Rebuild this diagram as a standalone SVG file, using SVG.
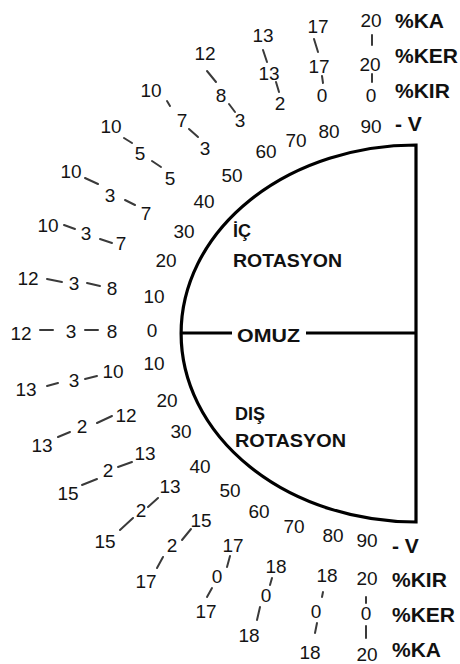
<svg xmlns="http://www.w3.org/2000/svg" width="460" height="664" viewBox="0 0 460 664">
<style>
.n{font-family:"Liberation Sans",Arial,sans-serif;font-size:19px;fill:#141414;text-anchor:middle}
.b{font-family:"Liberation Sans",Arial,sans-serif;font-weight:bold;fill:#111}
.k{font-size:21px}
.i{font-size:18px}
.d{stroke:#3a3a3a;stroke-width:2;stroke-linecap:round;fill:none}
.s{stroke:#000;stroke-width:3.2;fill:none}
</style>
<rect width="460" height="664" fill="#fff"/>
<g id="shoulder">
<path class="s" d="M416,145 A235,188.5 0 0 0 416,522 Z"/>
<line class="s" x1="181" y1="333" x2="232" y2="333"/>
<line class="s" x1="306" y1="333" x2="416" y2="333"/>
<text class="b i" x="237" y="342" textLength="63" lengthAdjust="spacingAndGlyphs">OMUZ</text>
<text class="b i" x="233" y="237">İÇ</text>
<text class="b i" x="233" y="267" textLength="109" lengthAdjust="spacingAndGlyphs">ROTASYON</text>
<text class="b i" x="235" y="420">DIŞ</text>
<text class="b i" x="235" y="447" textLength="111" lengthAdjust="spacingAndGlyphs">ROTASYON</text>
</g>
<g id="legend-top">
<text class="b k" x="395" y="28">%KA</text>
<text class="b k" x="395" y="63">%KER</text>
<text class="b k" x="395" y="98">%KIR</text>
<text class="b k" x="395" y="131">- V</text>
</g>
<g id="legend-bottom">
<text class="b k" x="392" y="553">- V</text>
<text class="b k" x="392" y="587">%KIR</text>
<text class="b k" x="392" y="622">%KER</text>
<text class="b k" x="392" y="657">%KA</text>
</g>
<g id="angles">
<text class="n" x="371" y="133">90</text>
<text class="n" x="329" y="138">80</text>
<text class="n" x="296" y="147">70</text>
<text class="n" x="266" y="158">60</text>
<text class="n" x="232" y="182">50</text>
<text class="n" x="204" y="208">40</text>
<text class="n" x="184" y="238">30</text>
<text class="n" x="166" y="267">20</text>
<text class="n" x="154" y="303">10</text>
<text class="n" x="152" y="337">0</text>
<text class="n" x="154" y="370">10</text>
<text class="n" x="167" y="407">20</text>
<text class="n" x="181" y="438">30</text>
<text class="n" x="200" y="473">40</text>
<text class="n" x="230" y="497">50</text>
<text class="n" x="259" y="518">60</text>
<text class="n" x="294" y="533">70</text>
<text class="n" x="333" y="542">80</text>
<text class="n" x="367" y="547">90</text>
</g>
<g id="values">
<text class="n" x="371" y="27">20</text><text class="n" x="370" y="71">20</text><text class="n" x="371" y="102">0</text>
<text class="n" x="318" y="33">17</text><text class="n" x="319" y="73">17</text><text class="n" x="322" y="102">0</text>
<text class="n" x="263" y="42">13</text><text class="n" x="269" y="80">13</text><text class="n" x="280" y="110">2</text>
<text class="n" x="205" y="60">12</text><text class="n" x="221" y="102">8</text><text class="n" x="240" y="127">3</text>
<text class="n" x="151" y="97">10</text><text class="n" x="182" y="127">7</text><text class="n" x="205" y="155">3</text>
<text class="n" x="111" y="133">10</text><text class="n" x="140" y="160">5</text><text class="n" x="170" y="185">5</text>
<text class="n" x="71" y="178">10</text><text class="n" x="110" y="202">3</text><text class="n" x="146" y="220">7</text>
<text class="n" x="48" y="232">10</text><text class="n" x="86" y="240">3</text><text class="n" x="121" y="250">7</text>
<text class="n" x="28" y="285">12</text><text class="n" x="74" y="290">3</text><text class="n" x="112" y="295">8</text>
<text class="n" x="21" y="340">12</text><text class="n" x="71" y="338">3</text><text class="n" x="112" y="338">8</text>
<text class="n" x="26" y="396">13</text><text class="n" x="74" y="387">3</text><text class="n" x="113" y="378">10</text>
<text class="n" x="42" y="452">13</text><text class="n" x="82" y="433">2</text><text class="n" x="126" y="422">12</text>
<text class="n" x="68" y="500">15</text><text class="n" x="108" y="477">2</text><text class="n" x="145" y="460">13</text>
<text class="n" x="105" y="548">15</text><text class="n" x="141" y="517">2</text><text class="n" x="170" y="493">13</text>
<text class="n" x="146" y="588">17</text><text class="n" x="172" y="552">2</text><text class="n" x="201" y="527">15</text>
<text class="n" x="206" y="618">17</text><text class="n" x="217" y="583">0</text><text class="n" x="233" y="552">17</text>
<text class="n" x="249" y="642">18</text><text class="n" x="266" y="602">0</text><text class="n" x="276" y="573">18</text>
<text class="n" x="310" y="659">18</text><text class="n" x="316" y="618">0</text><text class="n" x="327" y="582">18</text>
<text class="n" x="367" y="661">20</text><text class="n" x="366" y="620">0</text><text class="n" x="367" y="585">20</text>
</g>
<g id="connectors">
<path class="d" d="M372,35V45M372,74V82"/>
<path class="d" d="M314,39L318,52M322,76L323,83"/>
<path class="d" d="M263,50L267,62M276,82L279,92"/>
<path class="d" d="M207,71L216,82M229,104L235,112"/>
<path class="d" d="M167,101L170,106M189,129L198,137"/>
<path class="d" d="M124,138L132,143M152,161L161,167"/>
<path class="d" d="M85,178L98,184M125,200L135,205"/>
<path class="d" d="M64,225L75,229M100,239L112,243"/>
<path class="d" d="M47,279L62,282M87,283L100,286"/>
<path class="d" d="M40,330H53M85,330H98"/>
<path class="d" d="M47,386L58,383M85,379L97,376"/>
<path class="d" d="M58,437L70,432M97,423L112,416"/>
<path class="d" d="M82,485L97,479M118,467L132,462"/>
<path class="d" d="M120,530L133,518M148,507L158,498"/>
<path class="d" d="M157,568L163,557M182,540L191,529"/>
<path class="d" d="M207,597L212,588M227,567L230,556"/>
<path class="d" d="M257,620L260,607M270,585L272,578"/>
<path class="d" d="M315,633L317,623M322,597L323,592"/>
<path class="d" d="M366,597V603M366,626V638"/>
</g>
</svg>
